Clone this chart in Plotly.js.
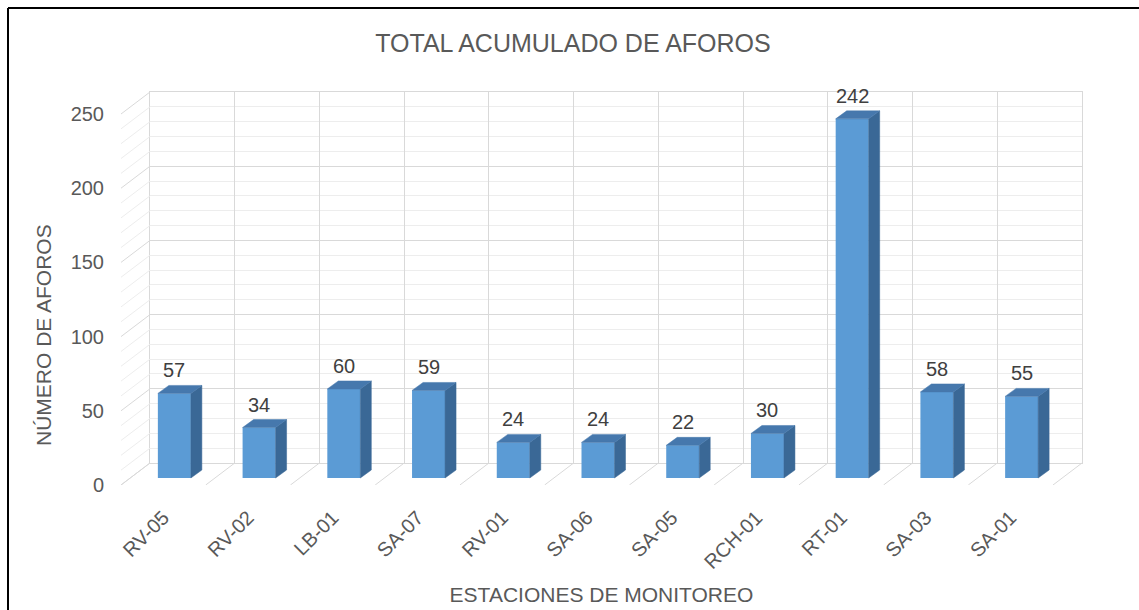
<!DOCTYPE html>
<html>
<head>
<meta charset="utf-8">
<script src="https://cdn.plot.ly/plotly-3.0.1.min.js"></script>
<style>html,body{margin:0;padding:0;background:#fff;}#chart{width:1139px;height:610px;}</style>
</head>
<body>
<div id="chart"></div>
<script>
// ---- data ----
const categories = ["RV-05","RV-02","LB-01","SA-07","RV-01","SA-06","SA-05","RCH-01","RT-01","SA-03","SA-01"];
const values = [57, 34, 60, 59, 24, 24, 22, 30, 242, 58, 55];
const yTickValues = [0, 50, 100, 150, 200, 250];
const yTickLabels = ["0", "50", "100", "150", "200", "250"];
const chartTitle = "TOTAL ACUMULADO DE AFOROS";
const xTitle = "ESTACIONES DE MONITOREO";
const yTitle = "NÚMERO DE AFOROS";

// ---- geometry (pixels) ----
const W = 1139, H = 610;
const X0 = 150, X1 = 1082, YT = 92, YB = 463;   // back wall
const DXPX = 29, DYPX = 22;                      // full depth of floor / side wall
const YMAX = 250, N = categories.length;
const pxCat = (X1 - X0) / N;
const pxUnit = (YB - YT) / YMAX;
const depthX = DXPX / pxCat, depthY = DYPX / pxUnit;
const barShift = -18 / pxCat;       // bar front face centre shift
const barBase = -15 / pxUnit;       // bar front face baseline
const barW = 33 / pxCat;
const sideX = 11 / pxCat, sideY = 8 / pxUnit;

const px2x = p => p / W;
const py2y = p => (H - p) / H;

const FONT = "Liberation Sans, Arial, sans-serif";
const GRID = "#d9d9d9", MINOR = "#ededed";

// back wall gridlines
const bounds = [];
for (let i = 0; i <= N; i++) bounds.push(i - 0.5);

// left-wall diagonals
const minorX = [], minorY = [], majorX = [], majorY = [];
for (let g = 0; g <= YMAX; g += 10) {
  const tx = (g % 50 === 0) ? majorX : minorX;
  const ty = (g % 50 === 0) ? majorY : minorY;
  tx.push(-0.5, -0.5 - depthX, null);
  ty.push(g, g - depthY, null);
}
// floor diagonals
const floorX = [], floorY = [];
bounds.forEach(b => { floorX.push(b, b - depthX, null); floorY.push(0, -depthY, null); });

// bar faces
const frontX = categories.map((c, i) => i + barShift);
const sideXs = [], sideYs = [], topXs = [], topYs = [];
values.forEach((v, i) => {
  const l = i + barShift - barW / 2, r = i + barShift + barW / 2;
  const b = barBase, t = barBase + v;
  sideXs.push(r, r + sideX, r + sideX, r, r, null);
  sideYs.push(b, b + sideY, t + sideY, t, b, null);
  topXs.push(l, l + sideX, r + sideX, r, l, null);
  topYs.push(t, t + sideY, t + sideY, t, t, null);
});

const lineTrace = (x, y, color) => ({type: "scatter", mode: "lines", x, y, xaxis: "x2", yaxis: "y2",
  line: {color, width: 1}, hoverinfo: "skip", showlegend: false, connectgaps: false});

const traces = [
  lineTrace(minorX, minorY, MINOR),
  lineTrace(majorX, majorY, GRID),
  lineTrace(floorX, floorY, GRID),
  {type: "bar", x: frontX, y: values, base: barBase, width: barW, xaxis: "x2", yaxis: "y2",
   marker: {color: "#5b9bd5", line: {width: 0}}, showlegend: false, hovertext: categories, hoverinfo: "text+y"},
  {type: "scatter", mode: "lines", x: sideXs, y: sideYs, fill: "toself", fillcolor: "#3a6896",
   line: {color: "#3a6896", width: 0.5}, xaxis: "x2", yaxis: "y2", hoverinfo: "skip", showlegend: false},
  {type: "scatter", mode: "lines", x: topXs, y: topYs, fill: "toself", fillcolor: "#4678ad",
   line: {color: "#4678ad", width: 0.5}, xaxis: "x2", yaxis: "y2", hoverinfo: "skip", showlegend: false},
  // invisible trace to activate back-wall subplot
  {type: "scatter", x: [0], y: [0], mode: "markers", marker: {opacity: 0}, hoverinfo: "skip", showlegend: false}
];

const annotations = values.map((v, i) => ({
  x: i + barShift, y: barBase + v, xref: "x2", yref: "y2", text: String(v),
  showarrow: false, yshift: 23, xanchor: "center", yanchor: "middle",
  font: {family: FONT, size: 20, color: "#404040"}
}));
annotations.push({
  x: px2x(43), y: py2y(335), xref: "paper", yref: "paper", text: yTitle, textangle: -90,
  showarrow: false, xanchor: "center", yanchor: "middle",
  font: {family: FONT, size: 21, color: "#595959"}
});

const layout = {
  width: W, height: H,
  margin: {l: 0, r: 0, t: 0, b: 0},
  paper_bgcolor: "#ffffff", plot_bgcolor: "rgba(0,0,0,0)",
  showlegend: false,
  font: {family: FONT, size: 20, color: "#595959"},
  title: {text: chartTitle, x: px2x(573), y: py2y(43), xanchor: "center", yanchor: "middle",
          xref: "paper", yref: "paper", font: {family: FONT, size: 25, color: "#595959"}},
  xaxis: {domain: [px2x(X0), px2x(X1)], range: [-0.5, N - 0.5], anchor: "y",
          tickvals: bounds, showticklabels: false, ticks: "", showgrid: true, gridcolor: GRID,
          zeroline: false, showline: true, mirror: true, linecolor: GRID, linewidth: 1, fixedrange: true},
  yaxis: {domain: [py2y(YB), py2y(YT)], range: [0, YMAX], anchor: "x",
          tick0: 0, dtick: 50, showticklabels: false, ticks: "", showgrid: true, gridcolor: GRID,
          minor: {dtick: 10, showgrid: true, gridcolor: MINOR, ticks: ""},
          zeroline: false, showline: true, mirror: true, linecolor: GRID, linewidth: 1, fixedrange: true},
  xaxis2: {domain: [px2x(X0 - DXPX), px2x(X1)], range: [-0.5 - depthX, N - 0.5], anchor: "y2",
           tickmode: "array", tickvals: categories.map((c, i) => i - depthX), ticktext: categories,
           tickangle: -45, ticks: "", ticklabelstandoff: 16, showgrid: false, zeroline: false, showline: false,
           tickfont: {family: FONT, size: 20, color: "#595959"},
           title: {text: xTitle, standoff: 15, font: {family: FONT, size: 21, color: "#595959"}},
           fixedrange: true},
  yaxis2: {domain: [py2y(YB + DYPX), py2y(YT)], range: [-depthY, YMAX], anchor: "x2",
           tickmode: "array", tickvals: yTickValues.map(v => v - depthY), ticktext: yTickLabels,
           ticks: "", ticklabelstandoff: 16, showgrid: false, zeroline: false, showline: false,
           tickfont: {family: FONT, size: 20, color: "#595959"}, fixedrange: true},
  annotations,
  shapes: [
    {type: "line", xref: "paper", yref: "paper", x0: px2x(8), x1: 1, y0: py2y(8), y1: py2y(8), line: {color: "#000", width: 2}},
    {type: "line", xref: "paper", yref: "paper", x0: px2x(8), x1: px2x(8), y0: py2y(8), y1: 0, line: {color: "#000", width: 2}}
  ]
};

Plotly.newPlot("chart", traces, layout, {staticPlot: true, displayModeBar: false});
</script>
</body>
</html>
